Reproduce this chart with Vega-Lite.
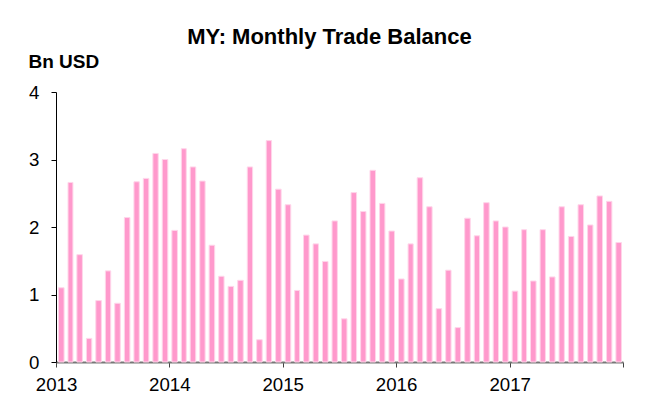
{
  "$schema": "https://vega.github.io/schema/vega-lite/v6.json",
  "autosize": {"type": "none"},
  "width": 567,
  "height": 270,
  "padding": {"left": 56, "top": 92, "right": 26, "bottom": 41},
  "background": "white",
  "config": {"view": {"stroke": null}, "font": "Liberation Sans"},
  "title": {
    "text": "MY: Monthly Trade Balance",
    "font": "Liberation Sans",
    "fontSize": 22,
    "fontWeight": "bold",
    "color": "#000000",
    "anchor": "middle",
    "dx": -10,
    "offset": 3
  },
  "data": {
    "values": [
      {"month": "2013-01-15", "value": 1.10}, {"month": "2013-02-15", "value": 2.66}, {"month": "2013-03-15", "value": 1.59},
      {"month": "2013-04-15", "value": 0.35}, {"month": "2013-05-15", "value": 0.91}, {"month": "2013-06-15", "value": 1.35},
      {"month": "2013-07-15", "value": 0.87}, {"month": "2013-08-15", "value": 2.14}, {"month": "2013-09-15", "value": 2.67},
      {"month": "2013-10-15", "value": 2.72}, {"month": "2013-11-15", "value": 3.09}, {"month": "2013-12-15", "value": 3.00},
      {"month": "2014-01-15", "value": 1.95}, {"month": "2014-02-15", "value": 3.16}, {"month": "2014-03-15", "value": 2.89},
      {"month": "2014-04-15", "value": 2.68}, {"month": "2014-05-15", "value": 1.73}, {"month": "2014-06-15", "value": 1.27},
      {"month": "2014-07-15", "value": 1.12}, {"month": "2014-08-15", "value": 1.21}, {"month": "2014-09-15", "value": 2.89},
      {"month": "2014-10-15", "value": 0.33}, {"month": "2014-11-15", "value": 3.28}, {"month": "2014-12-15", "value": 2.56},
      {"month": "2015-01-15", "value": 2.33}, {"month": "2015-02-15", "value": 1.06}, {"month": "2015-03-15", "value": 1.88},
      {"month": "2015-04-15", "value": 1.75}, {"month": "2015-05-15", "value": 1.49}, {"month": "2015-06-15", "value": 2.09},
      {"month": "2015-07-15", "value": 0.64}, {"month": "2015-08-15", "value": 2.51}, {"month": "2015-09-15", "value": 2.23},
      {"month": "2015-10-15", "value": 2.84}, {"month": "2015-11-15", "value": 2.35}, {"month": "2015-12-15", "value": 1.94},
      {"month": "2016-01-15", "value": 1.23}, {"month": "2016-02-15", "value": 1.75}, {"month": "2016-03-15", "value": 2.73},
      {"month": "2016-04-15", "value": 2.30}, {"month": "2016-05-15", "value": 0.79}, {"month": "2016-06-15", "value": 1.36},
      {"month": "2016-07-15", "value": 0.51}, {"month": "2016-08-15", "value": 2.13}, {"month": "2016-09-15", "value": 1.87},
      {"month": "2016-10-15", "value": 2.36}, {"month": "2016-11-15", "value": 2.09}, {"month": "2016-12-15", "value": 2.00},
      {"month": "2017-01-15", "value": 1.05}, {"month": "2017-02-15", "value": 1.96}, {"month": "2017-03-15", "value": 1.20},
      {"month": "2017-04-15", "value": 1.96}, {"month": "2017-05-15", "value": 1.26}, {"month": "2017-06-15", "value": 2.30},
      {"month": "2017-07-15", "value": 1.86}, {"month": "2017-08-15", "value": 2.33}, {"month": "2017-09-15", "value": 2.03},
      {"month": "2017-10-15", "value": 2.46}, {"month": "2017-11-15", "value": 2.38}, {"month": "2017-12-15", "value": 1.77}
    ]
  },
  "mark": {
    "type": "bar",
    "color": "#FF99CC",
    "stroke": "#FFD6EA",
    "strokeWidth": 1,
    "width": {"band": 0.68}
  },
  "encoding": {
    "x": {
      "field": "month",
      "type": "temporal",
      "timeUnit": "utcyearmonth",
      "scale": {
        "type": "utc",
        "domain": [
          {"year": 2013, "month": 1, "date": 1, "utc": true},
          {"year": 2018, "month": 1, "date": 1, "utc": true}
        ]
      },
      "axis": {
        "title": null,
        "values": [
          {"year": 2013, "month": 1, "date": 1, "utc": true},
          {"year": 2014, "month": 1, "date": 1, "utc": true},
          {"year": 2015, "month": 1, "date": 1, "utc": true},
          {"year": 2016, "month": 1, "date": 1, "utc": true},
          {"year": 2017, "month": 1, "date": 1, "utc": true},
          {"year": 2018, "month": 1, "date": 1, "utc": true}
        ],
        "labelExpr": "utcyear(datum.value) >= 2018 ? '' : '' + utcyear(datum.value)",
        "labelFont": "Liberation Sans",
        "labelFontSize": 18.67,
        "labelColor": "#000000",
        "labelAlign": "center",
        "labelDx": 4,
        "labelPadding": 8,
        "labelFlush": false,
        "labelOverlap": false,
        "grid": false,
        "domainColor": "#777777",
        "domainWidth": 2,
        "tickColor": "#444444",
        "tickSize": 5,
        "tickWidth": 1
      }
    },
    "y": {
      "field": "value",
      "type": "quantitative",
      "scale": {"domain": [0, 4], "nice": false, "zero": true},
      "axis": {
        "title": "Bn USD",
        "titleFont": "Liberation Sans",
        "titleFontSize": 19,
        "titleFontWeight": "bold",
        "titleColor": "#000000",
        "titleAngle": 0,
        "titleAlign": "left",
        "titleBaseline": "alphabetic",
        "titleX": -28,
        "titleY": -25,
        "values": [0, 1, 2, 3, 4],
        "format": "d",
        "labelFont": "Liberation Sans",
        "labelFontSize": 18.67,
        "labelColor": "#000000",
        "labelPadding": 12,
        "labelFlush": false,
        "grid": false,
        "domainColor": "#000000",
        "domainWidth": 1,
        "tickColor": "#000000",
        "tickSize": 5,
        "tickWidth": 1
      }
    }
  }
}
